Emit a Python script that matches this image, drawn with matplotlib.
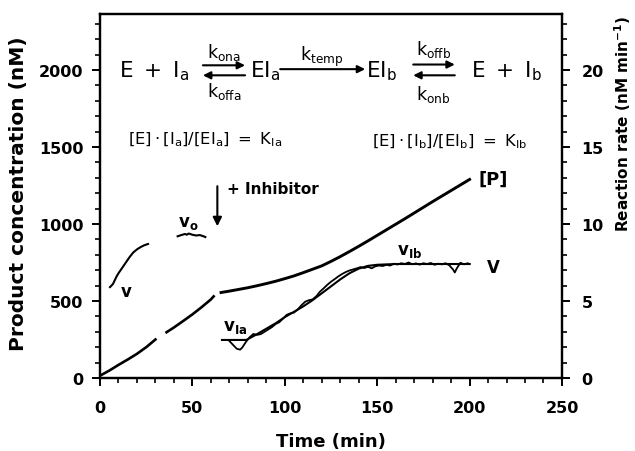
import matplotlib
matplotlib.use("Agg")
import matplotlib.pyplot as plt
import numpy as np

plt.rcParams['font.family'] = ['DejaVu Sans']
plt.rcParams['mathtext.fontset'] = 'dejavusans'

# ---- product concentration [P] (nM), left axis; three recorded pieces
p_t1 = [0, 5, 10, 15, 20, 25, 30]
p_v1 = [15, 48, 85, 120, 157, 200, 250]
p_t2 = [36, 40, 45, 50, 55, 60, 61.5]
p_v2 = [297, 328, 370, 413, 460, 510, 530]
p_t3 = [65.5, 70, 75, 80, 85, 90, 95, 100, 105, 110, 115, 120, 125, 130, 135,
        140, 145, 150, 155, 160, 165, 170, 175, 180, 185, 190, 195, 200]
p_v3 = [555, 564, 575, 586, 599, 613, 628, 645, 663, 684, 706, 728, 757, 788, 821,
        855, 890, 926, 962, 998, 1034, 1071, 1108, 1145, 1181, 1217, 1253, 1289]

# ---- reaction rate v (nM/min), right axis
v_t0 = [5.4, 7, 8, 9, 10, 12, 14, 16, 18, 20, 22, 24, 26]
v_r0 = [5.9, 6.1, 6.35, 6.6, 6.8, 7.15, 7.5, 7.85, 8.15, 8.35, 8.5, 8.62, 8.7]

vo_t = [42, 44, 46, 47, 48, 50, 52, 54, 56, 57]
vo_r = [9.2, 9.28, 9.35, 9.3, 9.38, 9.3, 9.25, 9.28, 9.2, 9.15]

vi_t = [70, 72, 74, 75.8, 77, 79, 81, 83, 85, 87, 89, 91, 93, 95, 97, 99, 101, 103,
        105, 107, 109, 111, 113, 115, 117, 119, 121, 123, 125, 127, 129, 131, 133,
        135, 137, 139, 141, 143, 145, 147, 149, 151, 153, 155, 157, 159, 161, 163,
        165, 167, 169, 171, 173, 175, 177, 179, 181, 183, 185, 187, 189, 191, 192,
        193, 195, 197, 199, 200]
vi_r = [2.4, 2.15, 1.9, 1.84, 1.98, 2.35, 2.65, 2.86, 2.8, 2.85, 3.0, 3.15, 3.3,
        3.5, 3.62, 3.85, 4.1, 4.2, 4.25, 4.45, 4.72, 4.95, 5.05, 5.1, 5.3, 5.6, 5.82,
        6.05, 6.25, 6.42, 6.6, 6.75, 6.88, 6.98, 7.05, 7.12, 7.2, 7.14, 7.22, 7.12,
        7.25, 7.3, 7.27, 7.35, 7.3, 7.42, 7.37, 7.45, 7.4, 7.5, 7.38, 7.44, 7.36,
        7.45, 7.4, 7.47, 7.35, 7.42, 7.38, 7.45, 7.32, 7.05, 6.85, 7.1, 7.48, 7.38,
        7.45, 7.4]

fit_t = [66, 79, 80, 85, 90, 95, 100, 105, 110, 115, 120, 125, 130, 135, 140, 145,
         150, 160, 170, 180, 190, 200]
fit_r = [2.47, 2.47, 2.52, 2.85, 3.2, 3.55, 3.95, 4.3, 4.65, 5.05, 5.5, 5.95, 6.4,
         6.8, 7.1, 7.28, 7.35, 7.4, 7.4, 7.4, 7.4, 7.4]

fig = plt.figure(figsize=(6.35, 4.52), dpi=100)
ax = fig.add_axes([0.1575, 0.1615, 0.7275, 0.8053])
ax2 = ax.twinx()

lc = 'black'
ax.plot(p_t1, p_v1, color=lc, lw=1.9)
ax.plot(p_t2, p_v2, color=lc, lw=1.9)
ax.plot(p_t3, p_v3, color=lc, lw=2.1)

ax2.plot(v_t0, v_r0, color=lc, lw=1.5)
ax2.plot(vo_t, vo_r, color=lc, lw=1.5)
ax2.plot(vi_t, vi_r, color=lc, lw=1.3)
ax2.plot(fit_t, fit_r, color=lc, lw=1.5)

ax.set_xlim(0, 250)
ax.set_ylim(0, 2363)
ax2.set_ylim(0, 23.63)

ax.set_xticks(np.arange(0, 251, 50))
ax.set_xticks(np.arange(0, 251, 10), minor=True)
ax.set_yticks(np.arange(0, 2001, 500))
ax.set_yticks(np.arange(0, 2301, 100), minor=True)
ax2.set_yticks(np.arange(0, 21, 5))
ax2.set_yticks(np.arange(0, 24, 1), minor=True)

for a in (ax, ax2):
    a.tick_params(which='major', length=6, width=1.4, labelsize=11.5, direction='out')
    a.tick_params(which='minor', length=3.5, width=1.2, direction='out')
    for s in a.spines.values():
        s.set_linewidth(1.6)
    for lab in a.get_xticklabels() + a.get_yticklabels():
        lab.set_fontweight('bold')
ax.tick_params(axis='x', pad=10)
ax.tick_params(axis='y', pad=6)
ax2.tick_params(axis='y', pad=8)

ax.set_xlabel('Time (min)', fontsize=13, fontweight='bold')
ax.xaxis.set_label_coords(0.5, -0.148)
ax.set_ylabel('Product concentration (nM)', fontsize=14.5, fontweight='bold')
ax.yaxis.set_label_coords(-0.156, 0.51)
ax2.set_ylabel(r'Reaction rate (nM min$^{\mathbf{-1}}$)', fontsize=11, fontweight='bold')
ax2.yaxis.set_label_coords(1.108, 0.70)

# curve labels
ax2.text(14.4, 5.67, 'v', fontsize=12, ha='center', va='center', fontweight='bold')
ax2.text(47.7, 10.1, r'$\mathbf{v_o}$', fontsize=12, ha='center', va='center')
ax2.text(66.4, 3.4, r'$\mathbf{v_{Ia}}$', fontsize=12, ha='left', va='center')
ax2.text(167.8, 8.3, r'$\mathbf{v_{Ib}}$', fontsize=12, ha='center', va='center')
ax2.text(212.8, 7.2, 'V', fontsize=12, ha='center', va='center', fontweight='bold')
ax.text(213, 1292, '[P]', fontsize=13, ha='center', va='center', fontweight='bold')

# inhibitor arrow
ax.annotate('', xy=(63.5, 985), xytext=(63.5, 1245),
            arrowprops=dict(arrowstyle='-|>', color='black', lw=1.5,
                            mutation_scale=13, shrinkA=0, shrinkB=0))
ax.text(68.5, 1227, '+ Inhibitor', fontsize=11, ha='left', va='center',
        fontweight='bold')

# reaction scheme
big = 15.5
ax.text(10.5, 1995, r'$\mathrm{E\ +\ I_a}$', fontsize=big, ha='left', va='center')
ax.text(81, 1995, r'$\mathrm{EI_a}$', fontsize=big, ha='left', va='center')
ax.text(144, 1995, r'$\mathrm{EI_b}$', fontsize=big, ha='left', va='center')
ax.text(201, 1995, r'$\mathrm{E\ +\ I_b}$', fontsize=big, ha='left', va='center')

harp = dict(arrowstyle='-|>', color='black', lw=1.5, mutation_scale=11,
            shrinkA=0, shrinkB=0)
ks = 12.5
ax.annotate('', xy=(78.5, 2030), xytext=(55.7, 2030), arrowprops=harp)
ax.annotate('', xy=(55.7, 1965), xytext=(78.5, 1965), arrowprops=harp)
ax.text(67, 2120, r'$\mathrm{k_{ona}}$', fontsize=ks, ha='center', va='center')
ax.text(67, 1866, r'$\mathrm{k_{offa}}$', fontsize=ks, ha='center', va='center')

ax.annotate('', xy=(143.5, 2005), xytext=(97.5, 2005), arrowprops=harp)
ax.text(120, 2092, r'$\mathrm{k_{temp}}$', fontsize=ks, ha='center', va='center')

ax.annotate('', xy=(192, 2035), xytext=(169.5, 2035), arrowprops=harp)
ax.annotate('', xy=(169.5, 1965), xytext=(192, 1965), arrowprops=harp)
ax.text(180.5, 2138, r'$\mathrm{k_{offb}}$', fontsize=ks, ha='center', va='center')
ax.text(180.5, 1845, r'$\mathrm{k_{onb}}$', fontsize=ks, ha='center', va='center')

ax.text(15, 1552, r'$\mathrm{[E]\cdot[I_a]/[EI_a]\ =\ K_{Ia}}$', fontsize=11.8,
        ha='left', va='center')
ax.text(147, 1541, r'$\mathrm{[E]\cdot[I_b]/[EI_b]\ =\ K_{Ib}}$', fontsize=11.8,
        ha='left', va='center')

fig.savefig('out.png', dpi=100)
